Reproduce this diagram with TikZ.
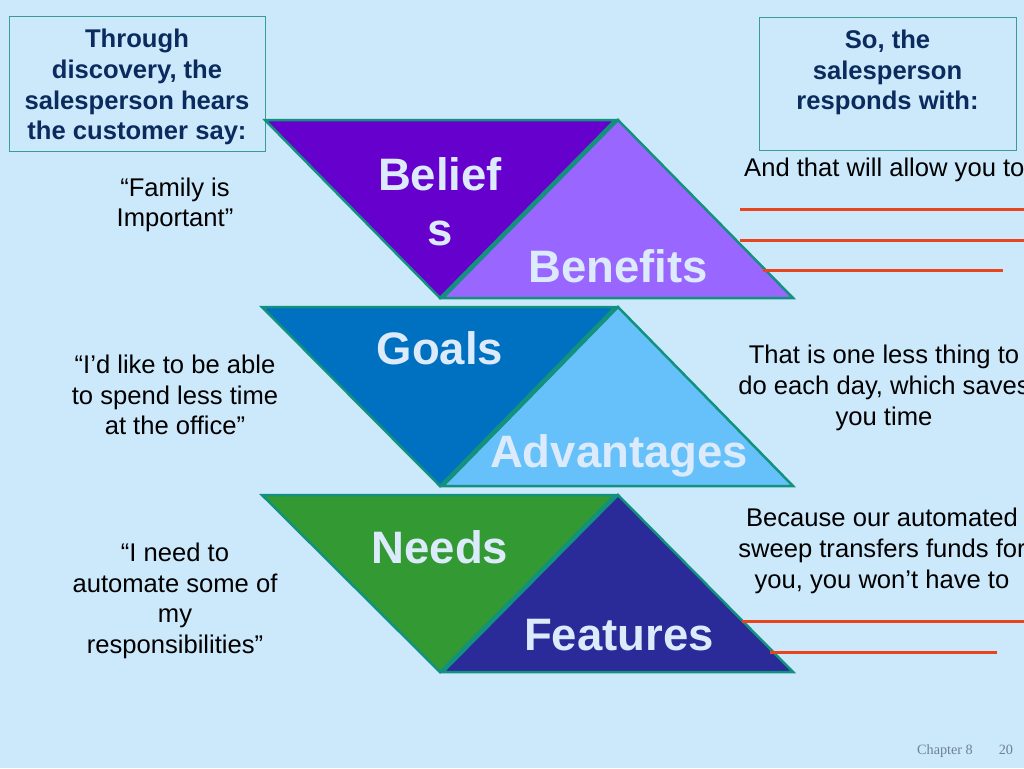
\documentclass[tikz,border=0pt]{standalone}
\usepackage{fontspec}
\setmainfont{Liberation Sans}
\newfontfamily\chapfont{Liberation Serif}
\usetikzlibrary{positioning}
\definecolor{cSky}{HTML}{CCE9FC}
\definecolor{cTeal}{HTML}{12917F}
\definecolor{cFrame}{HTML}{3A9C98}
\definecolor{cNavy}{HTML}{0B2B5E}
\definecolor{cPale}{HTML}{DCEBFB}
\definecolor{cRule}{HTML}{E8441E}
\definecolor{cBel}{HTML}{6600CC}
\definecolor{cBen}{HTML}{9966FF}
\definecolor{cGoa}{HTML}{0070C0}
\definecolor{cAdv}{HTML}{66C0FA}
\definecolor{cNee}{HTML}{339933}
\definecolor{cFea}{HTML}{2A2A99}
\definecolor{cGrey}{HTML}{6F8094}
\tikzset{
  tri/.style    ={draw=cTeal,line width=2.5pt,line join=miter},
  frame/.style  ={draw=cFrame,line width=0.9pt,inner sep=0pt},
  boxtxt/.style ={align=center,text=cNavy,inner sep=0pt,
                  font=\fontsize{25.6}{30.7}\selectfont\bfseries},
  say/.style    ={align=center,inner sep=0pt,text=black,
                  font=\fontsize{25.6}{30.7}\selectfont},
  tlbl/.style   ={align=center,inner sep=0pt,text=cPale,
                  font=\fontsize{45.5}{54.6}\selectfont\bfseries},
  rule/.style   ={cRule,line width=3pt},
}
\begin{document}
\begin{tikzpicture}[x=1pt,y=-1pt]
\useasboundingbox[fill=cSky] (0,0) rectangle (1024,768);

% header boxes
\node[frame,minimum width=256pt,minimum height=135pt] (hearbox) at (137,84) {};
\node[boxtxt,below=13pt of hearbox.north] (hear)
  {Through\\discovery, the\\salesperson hears\\the customer say:};
\node[frame,minimum width=257pt,minimum height=133pt] (respbox) at (887.5,83.5) {};
\node[boxtxt,below=13pt of respbox.north] (resp)
  {So, the\\salesperson\\responds with:};

% triangles
\draw[tri,fill=cBel] (265,120) -- (615,120) -- (440,298) -- cycle;
\draw[tri,fill=cBen] (443,298) -- (618,120) -- (793,298) -- cycle;
\draw[tri,fill=cGoa] (262,307) -- (615,307) -- (440,486) -- cycle;
\draw[tri,fill=cAdv] (443,486) -- (618,307) -- (793,486) -- cycle;
\draw[tri,fill=cNee] (262,495) -- (615,495) -- (440,672) -- cycle;
\draw[tri,fill=cFea] (443,672) -- (618,495) -- (793,672) -- cycle;

\node[tlbl] (beliefs) at (440,202) {Belief\\s};
\node[tlbl,anchor=base] (benefits) at (618,282) {Benefits};
\node[tlbl,anchor=base] (goals) at (440,364) {Goals};
\node[tlbl,anchor=base] (advantages) at (619,467) {Advantages};
\node[tlbl,anchor=base] (needs) at (440,563) {Needs};
\node[tlbl,anchor=base] (features) at (619,650) {Features};

% what the customer says
\node[say] (family) at (175,205) {“Family is\\Important”};
\node[say] (office) at (175,395) {“I’d like to be able\\to spend less time\\at the office”};
\node[say] (automate) at (175,601) {“I need to\\automate some of\\my\\responsibilities”};

% what the salesperson answers
\node[say,anchor=base west] (allow) at (744,176) {And that will allow you to};
\draw[rule] (740,209) -- (1030,209);
\draw[rule] (740,240) -- (1030,240);
\draw[rule] (763,270) -- (1003,270);
\node[say] (saves) at (884,388) {That is one less thing to\\do each day, which saves\\you time};
\node[say] (sweep) at (882,551) {Because our automated\\sweep transfers funds for\\you, you won’t have to};
\draw[rule] (742,621) -- (1030,621);
\draw[rule] (770,652) -- (997,652);

\node[anchor=base west,inner sep=0pt,text=cGrey,font=\chapfont\fontsize{14.2}{17}\selectfont]
  (chapter) at (917,754) {Chapter 8\hspace{26pt}20};
\end{tikzpicture}
\end{document}
